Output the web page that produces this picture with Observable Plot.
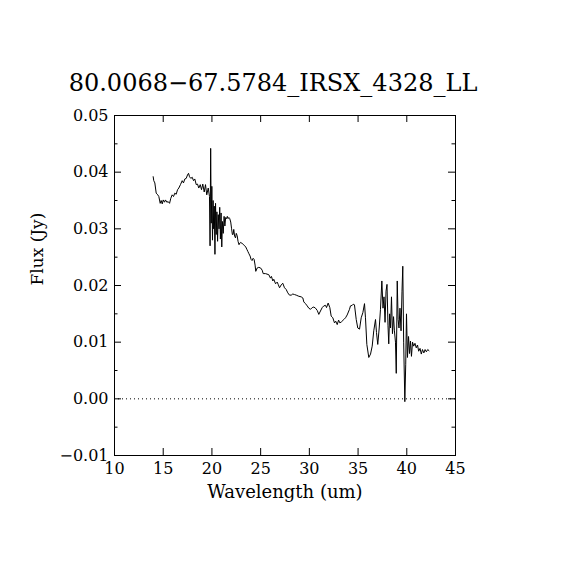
<!DOCTYPE html>
<html>
<head>
<meta charset="utf-8">
<script src="https://cdn.jsdelivr.net/npm/d3@7"></script>
<script src="https://cdn.jsdelivr.net/npm/@observablehq/plot@0.6"></script>
<style>
  html, body { margin: 0; padding: 0; background: #fff; }
  #chart svg { display: block; }
</style>
</head>
<body>
<div id="chart"></div>
<script>
const titleText = "80.0068\u221267.5784_IRSX_4328_LL";
const xLabel = "Wavelength (um)";
const yLabel = "Flux (Jy)";

const xTickValues = [10, 15, 20, 25, 30, 35, 40, 45];
const yTickValues = [-0.01, 0.00, 0.01, 0.02, 0.03, 0.04, 0.05];
const yMinorTickValues = [-0.005, 0.005, 0.015, 0.025, 0.035, 0.045];

const wavelength = [
  13.97, 14.03, 14.14, 14.28, 14.44, 14.55, 14.69, 14.79, 14.90, 15.00,
  15.13, 15.23, 15.37, 15.51, 15.65, 15.78, 15.92, 16.06, 16.19, 16.33,
  16.47, 16.60, 16.77, 16.95, 17.08, 17.22, 17.36, 17.49, 17.60, 17.70,
  17.83, 17.98, 18.11, 18.24, 18.39, 18.52, 18.65, 18.80, 18.93, 19.06,
  19.21, 19.34, 19.47, 19.62, 19.75,
  19.81, 19.87, 19.93, 19.99, 20.06, 20.12, 20.18, 20.24, 20.31, 20.37,
  20.44, 20.51, 20.58, 20.65, 20.73, 20.80, 20.87, 20.94, 21.01, 21.08,
  21.16, 21.25, 21.33, 21.41, 21.50, 21.58, 21.66, 21.74, 21.83, 21.93,
  22.02, 22.10, 22.17, 22.24, 22.33, 22.42, 22.50, 22.59, 22.68, 22.78,
  22.87, 22.96, 23.06, 23.16, 23.26, 23.36, 23.47, 23.58, 23.69, 23.80,
  23.92, 24.02, 24.12, 24.23, 24.33, 24.43, 24.50, 24.65, 24.81, 24.99,
  25.16, 25.26, 25.50, 25.84, 26.01, 26.11, 26.25, 26.35, 26.53, 26.70,
  26.80, 26.94, 27.11, 27.27, 27.45, 27.62, 27.79, 27.96, 28.14, 28.30,
  28.48, 28.65, 28.92, 29.16, 29.33, 29.43, 29.60, 29.78, 29.94, 30.12,
  30.29, 30.46, 30.63, 30.81, 30.97, 31.14, 31.32, 31.48, 31.66, 31.76,
  31.93, 32.10, 32.24, 32.41, 32.58, 32.71, 32.86, 33.00, 33.13, 33.30,
  33.54, 33.71, 33.88, 34.12, 34.22, 34.40, 34.50, 34.63, 34.81, 34.97,
  35.15, 35.32, 35.49, 35.66, 35.76, 35.90, 36.10, 36.28, 36.45, 36.61,
  36.79, 36.89, 37.02, 37.17, 37.30, 37.44, 37.56, 37.66, 37.77, 37.87,
  37.97, 38.07, 38.15, 38.24, 38.33, 38.43, 38.53, 38.64, 38.73, 38.84,
  38.92, 39.02, 39.11, 39.20, 39.30, 39.41, 39.51, 39.59, 39.68, 39.80,
  39.89, 39.97, 40.07, 40.18, 40.28, 40.38, 40.48, 40.59, 40.71, 40.84,
  40.97, 41.10, 41.22, 41.36, 41.49, 41.61, 41.75, 41.88, 42.01, 42.15,
  42.28
];

const flux = [
  0.0392, 0.0385, 0.0381, 0.0363, 0.0360, 0.0357, 0.0345, 0.0350, 0.0344, 0.0351,
  0.0347, 0.0351, 0.0347, 0.0348, 0.0345, 0.0354, 0.0360, 0.0357, 0.0363, 0.0361,
  0.0369, 0.0372, 0.0378, 0.0385, 0.0381, 0.0388, 0.0389, 0.0395, 0.0398, 0.0392,
  0.0389, 0.0391, 0.0385, 0.0388, 0.0378, 0.0379, 0.0372, 0.0378, 0.0369, 0.0379,
  0.0365, 0.0378, 0.0360, 0.0372, 0.0357,
  0.0270, 0.0442, 0.0310, 0.0375, 0.0280, 0.0350, 0.0300, 0.0340, 0.0255, 0.0345,
  0.0290, 0.0330, 0.0278, 0.0325, 0.0300, 0.0338, 0.0282, 0.0328, 0.0268, 0.0313,
  0.0292, 0.0322, 0.0305, 0.0320, 0.0318, 0.0322, 0.0318, 0.0320, 0.0318, 0.0312,
  0.0300, 0.0290, 0.0290, 0.0299, 0.0287, 0.0284, 0.0292, 0.0288, 0.0278, 0.0272,
  0.0275, 0.0276, 0.0275, 0.0273, 0.0272, 0.0270, 0.0268, 0.0264, 0.0260, 0.0256,
  0.0252, 0.0246, 0.0244, 0.0248, 0.0246, 0.0236, 0.0225, 0.0231, 0.0232, 0.0231,
  0.0227, 0.0221, 0.0221, 0.0219, 0.0213, 0.0216, 0.0208, 0.0211, 0.0203, 0.0206,
  0.0202, 0.0196, 0.0201, 0.0204, 0.0196, 0.0193, 0.0187, 0.0183, 0.0183, 0.0185,
  0.0184, 0.0183, 0.0181, 0.0180, 0.0178, 0.0171, 0.0168, 0.0164, 0.0160, 0.0158,
  0.0161, 0.0162, 0.0160, 0.0156, 0.0149, 0.0155, 0.0161, 0.0164, 0.0165, 0.0161,
  0.0169, 0.0161, 0.0146, 0.0143, 0.0134, 0.0137, 0.0131, 0.0139, 0.0134, 0.0136,
  0.0140, 0.0143, 0.0148, 0.0158, 0.0164, 0.0165, 0.0167, 0.0166, 0.0140, 0.0125,
  0.0123, 0.0143, 0.0152, 0.0168, 0.0143, 0.0096, 0.0073, 0.0079, 0.0093, 0.0120,
  0.0140, 0.0117, 0.0096, 0.0125, 0.0158, 0.0208, 0.0160, 0.0180, 0.0135, 0.0190,
  0.0202, 0.0130, 0.0097, 0.0150, 0.0125, 0.0180, 0.0115, 0.0145, 0.0120, 0.0100,
  0.0045, 0.0208, 0.0140, 0.0125, 0.0160, 0.0120, 0.0190, 0.0234, 0.0100, -0.0005,
  0.0060, 0.0150, 0.0073, 0.0110, 0.0080, 0.0102, 0.0075, 0.0100, 0.0093, 0.0098,
  0.0090, 0.0095, 0.0084, 0.0089, 0.0079, 0.0087, 0.0081, 0.0087, 0.0083, 0.0087,
  0.0085
];

const spectrum = wavelength.map((w, i) => ({w, f: flux[i]}));

const W = 570, H = 570;
const mL = 114, mR = 115, mT = 115, mB = 115;
const fw = W - mL - mR, fh = H - mT - mB;
const font = "'DejaVu Serif', serif";

const chart = Plot.plot({
  width: W,
  height: H,
  marginLeft: mL,
  marginRight: mR,
  marginTop: mT,
  marginBottom: mB,
  style: {fontFamily: font, background: "#fff", color: "#000", overflow: "visible"},
  x: {domain: [10, 45]},
  y: {domain: [-0.01, 0.05]},
  marks: [
    Plot.ruleY([0], {stroke: "#000", strokeWidth: 1, strokeDasharray: "1,3"}),
    Plot.line(spectrum, {x: "w", y: "f", stroke: "#000", strokeWidth: 1}),
    Plot.tickX(xTickValues, {x: d => d, insetTop: fh - 7, stroke: "#000"}),
    Plot.tickX(xTickValues, {x: d => d, insetBottom: fh - 7, stroke: "#000"}),
    Plot.tickY(yTickValues, {y: d => d, insetRight: fw - 7, stroke: "#000"}),
    Plot.tickY(yTickValues, {y: d => d, insetLeft: fw - 7, stroke: "#000"}),
    Plot.tickY(yMinorTickValues, {y: d => d, insetRight: fw - 3.5, stroke: "#000"}),
    Plot.tickY(yMinorTickValues, {y: d => d, insetLeft: fw - 3.5, stroke: "#000"}),
    Plot.frame({stroke: "#000", strokeWidth: 1}),
    Plot.axisX({ticks: xTickValues, tickSize: 0, tickPadding: 7, fontSize: 16, label: null, tickFormat: d3.format("d")}),
    Plot.axisY({ticks: yTickValues, tickSize: 0, tickPadding: 6, fontSize: 16, label: null, tickFormat: d3.format(".2f")}),
    Plot.text([titleText], {frameAnchor: "top", lineAnchor: "middle", dy: -32, dx: -12, fontSize: 24, fill: "#000"}),
    Plot.text([xLabel], {frameAnchor: "bottom", lineAnchor: "middle", dy: 37, fontSize: 18, fill: "#000"}),
    Plot.text([yLabel], {frameAnchor: "left", lineAnchor: "middle", dx: -77, rotate: -90, fontSize: 17, fill: "#000"})
  ]
});

document.getElementById("chart").appendChild(chart);
</script>
</body>
</html>
